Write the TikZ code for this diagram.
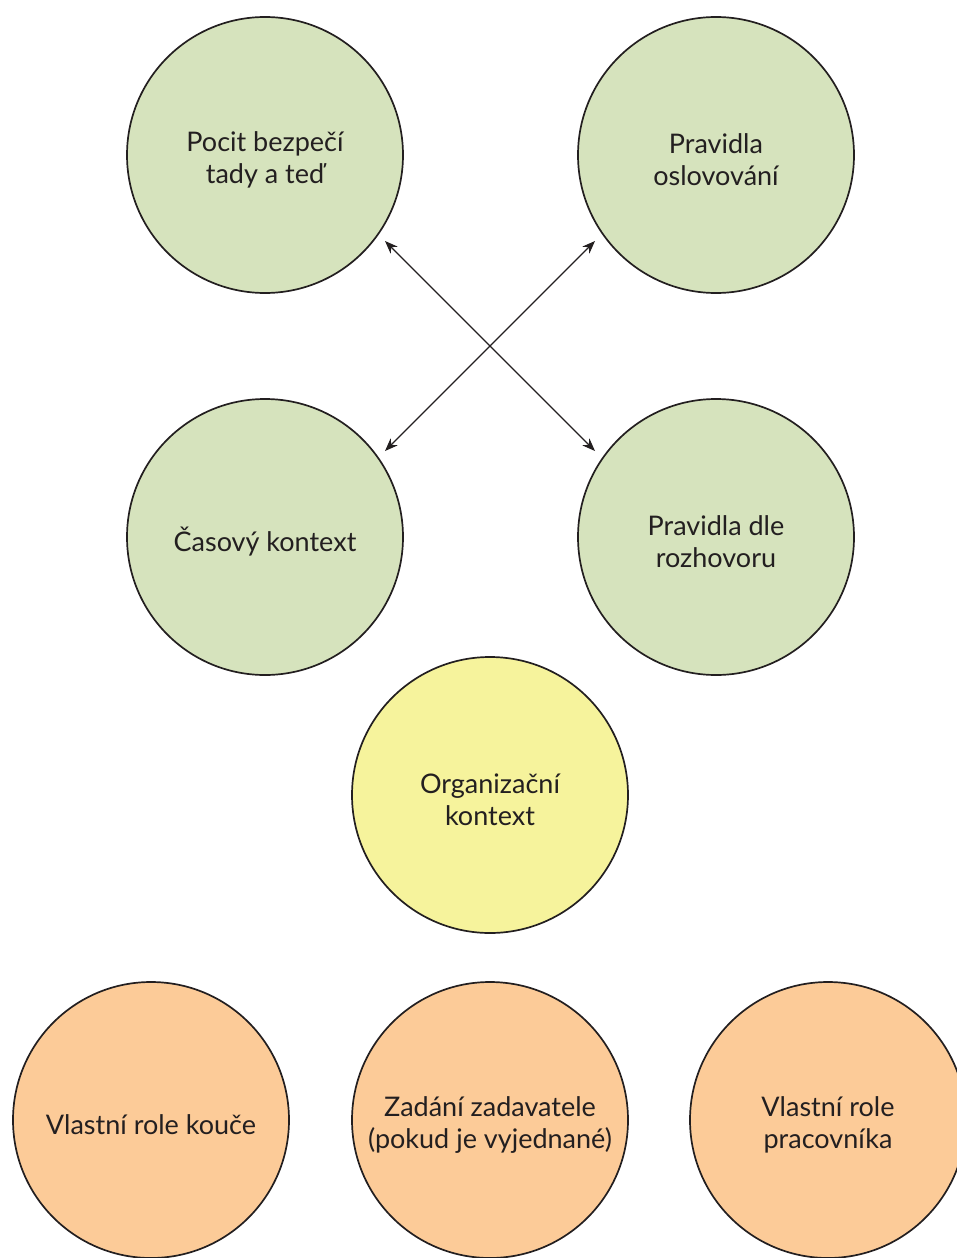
\documentclass[tikz,border=0pt]{standalone}
\usepackage{fontspec}
\setmainfont{Lato}
\usetikzlibrary{arrows.meta}
\definecolor{cgreen}{RGB}{214,227,189}
\definecolor{cyellow}{RGB}{246,243,156}
\definecolor{corange}{RGB}{252,203,152}
\definecolor{ink}{RGB}{35,31,32}
\begin{document}
\begin{tikzpicture}[x=1pt,y=-1pt,
  bub/.style={circle,draw=ink,line width=1.7pt,minimum size=276pt,inner sep=0pt},
  lbl/.style={align=center,font=\fontsize{27}{32}\selectfont,text=ink,inner sep=0pt,yshift=-5pt},
  green/.style={bub,fill=cgreen},
  yel/.style={bub,fill=cyellow},
  ora/.style={bub,fill=corange},
  arr/.style={draw=ink,line width=1.1pt,{Stealth[length=13pt,width=10pt]}-{Stealth[length=13pt,width=10pt]}}]
\useasboundingbox (0,0) rectangle (957,1258);
\clip (0,0) rectangle (957,1258);
\node[green,label={[lbl]center:Pocit bezpečí\\tady a teď}] (pb) at (265,155) {};
\node[green,label={[lbl]center:Pravidla\\oslovování}] (po) at (716,155) {};
\node[green,label={[lbl]center:Časový kontext}] (ck) at (265,537) {};
\node[green,label={[lbl]center:Pravidla dle\\rozhovoru}] (pr) at (716,537) {};
\node[yel,label={[lbl]center:Organizační\\kontext}] (ok) at (490,795) {};
\node[ora,label={[lbl]center:Vlastní role kouče}] (vk) at (151,1120) {};
\node[ora,label={[lbl]center:Zadání zadavatele\\(pokud je vyjednané)}] (zz) at (490,1120) {};
\node[ora,label={[lbl]center:Vlastní role\\pracovníka}] (vp) at (828,1120) {};
\coordinate (a1) at (385,241);
\coordinate (a2) at (595,451);
\coordinate (b1) at (595,241);
\coordinate (b2) at (385,451);
\draw[arr] (a1) -- (a2);
\draw[arr] (b1) -- (b2);
\end{tikzpicture}
\end{document}
